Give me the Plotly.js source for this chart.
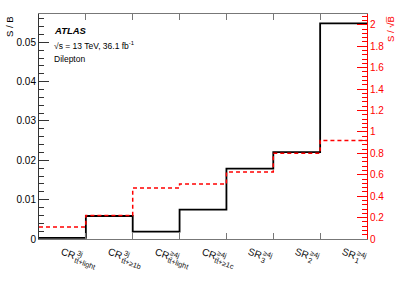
<!DOCTYPE html>
<html>
<head>
<meta charset="utf-8">
<script src="https://cdn.plot.ly/plotly-3.0.1.min.js"></script>
<style>html,body{margin:0;padding:0;background:#fff;}#chart{width:399px;height:286px;}</style>
</head>
<body>
<div id="chart"></div>
<script>
// Regions (bins)
const labelMain = ['CR', 'CR', 'CR', 'CR', 'SR', 'SR', 'SR'];
const labelSup = ['3j', '3j', '\u22654j', '\u22654j', '\u22654j', '\u22654j', '\u22654j'];
const labelSub = ['tt\u0304+light', 'tt\u0304+\u22651b', 'tt\u0304+light', 'tt\u0304+\u22651c', '3', '2', '1'];
// S/B per region
const sOverB = [0.0003, 0.00585, 0.00186, 0.00746, 0.0179, 0.0221, 0.0548];
// S/sqrt(B) per region
const sOverSqrtB = [0.112, 0.22, 0.476, 0.513, 0.625, 0.80, 0.92];

const nBins = labelMain.length;
const edges = [];
for (let i = 0; i <= nBins; i++) edges.push(i);
const stepY = (arr) => arr.concat([arr[arr.length - 1]]);

const traces = [
  {
    x: edges, y: stepY(sOverSqrtB), yaxis: 'y2', type: 'scatter', mode: 'lines',
    line: {shape: 'hv', color: '#ff0000', width: 1.5, dash: '4px,3px'},
    hoverinfo: 'skip'
  },
  {
    x: edges, y: stepY(sOverB), type: 'scatter', mode: 'lines',
    line: {shape: 'hv', color: '#000000', width: 1.8},
    hoverinfo: 'skip'
  }
];

const fam = '"Liberation Sans", Arial, Helvetica, sans-serif';
const mainSize = 10, smallSize = 7.3;
const cvs = document.createElement('canvas').getContext('2d');
function textW(t, size) { cvs.font = size + 'px "Liberation Sans"'; return cvs.measureText(t).width; }

const theta = 20 * Math.PI / 180;
const cs = Math.cos(theta), sn = Math.sin(theta);
function rot(u, v) { return [u * cs - v * sn, u * sn + v * cs]; }
const originDx = -1, originDy = 12; // label start relative to bin centre & bottom axis

const annotations = [];
for (let i = 0; i < nBins; i++) {
  const wMain = textW(labelMain[i], mainSize);
  const wSup = textW(labelSup[i].replace('\u0304', ''), smallSize);
  const wSub = textW(labelSub[i].replace('\u0304', ''), smallSize);
  const pieces = [
    {t: labelMain[i], s: mainSize, u: wMain / 2, v: 0},
    {t: labelSup[i], s: smallSize, u: wMain + 0.8 + wSup / 2, v: -3.6},
    {t: labelSub[i], s: smallSize, u: wMain + 0.8 + wSub / 2, v: 4.0}
  ];
  pieces.forEach(p => {
    const [dx, dy] = rot(p.u, p.v);
    annotations.push({
      x: i + 0.5, xref: 'x', y: 0, yref: 'paper', xanchor: 'center', yanchor: 'middle',
      xshift: originDx + dx, yshift: -(originDy + dy), text: p.t, showarrow: false,
      textangle: 20, font: {family: fam, size: p.s, color: '#111'}
    });
  });
}
annotations.push(
  {x: 0.041, y: 0.928, xref: 'paper', yref: 'paper', xanchor: 'left', yanchor: 'middle',
   text: '<b><i>ATLAS</i></b>', showarrow: false, font: {family: fam, size: 9.5, color: '#000'}},
  {x: 0.041, y: 0.862, xref: 'paper', yref: 'paper', xanchor: 'left', yanchor: 'middle',
   text: '\u221As = 13 TeV, 36.1 fb<sup>-1</sup>', showarrow: false, font: {family: fam, size: 8.5, color: '#000'}},
  {x: 0.041, y: 0.8, xref: 'paper', yref: 'paper', xanchor: 'left', yanchor: 'middle',
   text: 'Dilepton', showarrow: false, font: {family: fam, size: 8.5, color: '#000'}},
  {x: -0.09, y: 1.0, xref: 'paper', yref: 'paper', xanchor: 'center', yanchor: 'top',
   text: 'S / B', showarrow: false, textangle: -90, font: {family: fam, size: 9.5, color: '#000'}},
  {x: 1.07, y: 1.0, xref: 'paper', yref: 'paper', xanchor: 'center', yanchor: 'top',
   text: 'S / \u221AB\u0305', showarrow: false, textangle: -90, font: {family: fam, size: 9.5, color: '#ff0000'}}
);

const layout = {
  width: 399, height: 286,
  margin: {l: 38.5, r: 32.3, t: 14.3, b: 46.7, pad: 0},
  paper_bgcolor: '#fff', plot_bgcolor: '#fff',
  showlegend: false,
  xaxis: {
    range: [0, nBins], tickvals: edges.slice(1, nBins), showticklabels: false,
    ticks: 'inside', ticklen: 6, tickwidth: 1, tickcolor: '#777',
    showline: true, linecolor: '#777', linewidth: 1, mirror: 'ticks',
    showgrid: false, zeroline: false, fixedrange: true
  },
  yaxis: {
    range: [0, 0.0572], dtick: 0.01, tick0: 0,
    ticks: 'inside', ticklen: 10, tickwidth: 1, tickcolor: '#333',
    minor: {dtick: 0.002, ticks: 'inside', ticklen: 5, tickcolor: '#333', showgrid: false},
    showline: true, linecolor: '#333', linewidth: 1,
    showgrid: false, zeroline: false,
    tickfont: {family: fam, size: 10, color: '#000'}, fixedrange: true
  },
  yaxis2: {
    overlaying: 'y', side: 'right', range: [0, 2.1], dtick: 0.2, tick0: 0,
    ticks: 'inside', ticklen: 10, tickwidth: 1, tickcolor: '#ff0000',
    minor: {dtick: 0.04, ticks: 'inside', ticklen: 5, tickcolor: '#ff0000', showgrid: false},
    showline: true, linecolor: '#ff0000', linewidth: 1,
    showgrid: false, zeroline: false,
    tickfont: {family: fam, size: 10, color: '#ff0000'}, fixedrange: true
  },
  annotations: annotations
};

Plotly.newPlot('chart', traces, layout, {displayModeBar: false, staticPlot: true});
</script>
</body>
</html>
